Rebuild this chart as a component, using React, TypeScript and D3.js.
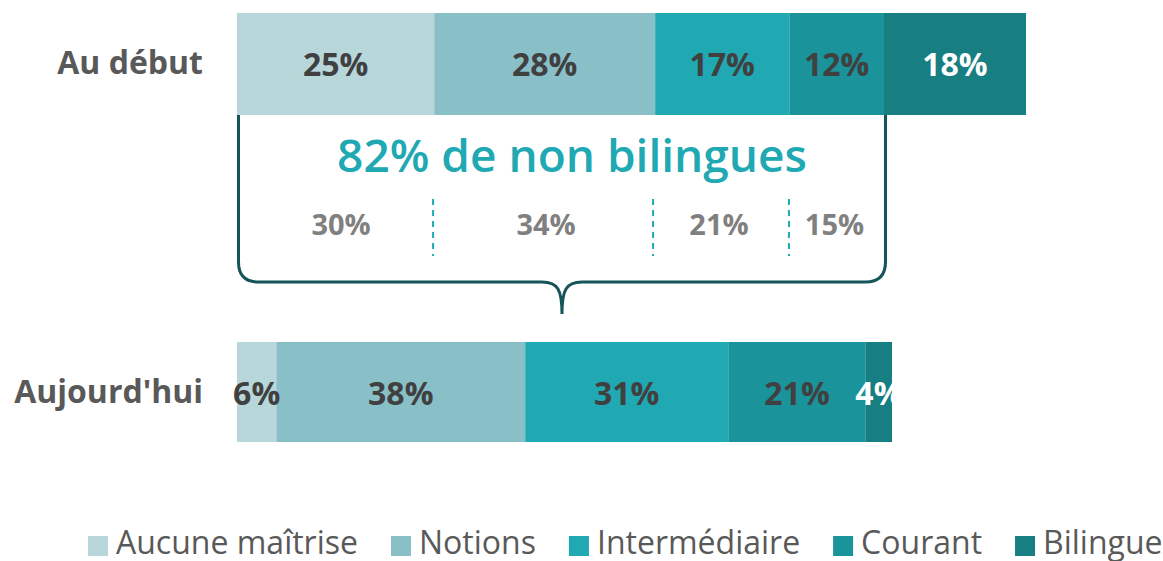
import React, { useEffect, useRef } from "react";
import * as d3 from "d3";

const categories = ["Au début", "Aujourd'hui"];
const levels = ["Aucune maîtrise", "Notions", "Intermédiaire", "Courant", "Bilingue"];
const debutValues = [25, 28, 17, 12, 18];
const aujourdhuiValues = [6, 38, 31, 21, 4];
const nonBilingueTotal = 82;
const nonBilingueTitle = "82% de non bilingues";
const nonBilingueSplit = [30, 34, 21, 15];
const levelColors = ["#b7d7db", "#89c0c8", "#20a8b3", "#1a939b", "#177e82"];
const labelColors = ["#404040", "#404040", "#404040", "#404040", "#ffffff"];

const W = 1163;
const H = 561;
const FONT = "'Open Sans', 'Noto Sans', sans-serif";

export default function App() {
  const ref = useRef<SVGSVGElement | null>(null);

  useEffect(() => {
    const svg = d3.select(ref.current);
    svg.selectAll("*").remove();

    const xTop = d3.scaleLinear().domain([0, 100]).range([237, 1026]);
    const xBottom = d3.scaleLinear().domain([0, 100]).range([237, 892]);
    const yTop = d3.scaleOrdinal<string, number>().domain(categories).range([13, 342]);
    const barH = 100;

    const series = [debutValues, aujourdhuiValues];
    const scales = [xTop, xBottom];

    const defs = svg.append("defs");
    defs.append("clipPath").attr("id", "clipBottom")
      .append("rect").attr("x", 0).attr("y", 0).attr("width", xBottom(100)).attr("height", H);

    categories.forEach((cat, ci) => {
      const vals = series[ci];
      const x = scales[ci];
      const y0 = yTop(cat);
      let cum = 0;
      const segs = vals.map((v, i) => {
        const s = { start: cum, end: cum + v, v, i };
        cum += v;
        return s;
      });
      const g = svg.append("g");
      g.selectAll("rect").data(segs).join("rect")
        .attr("x", d => x(d.start))
        .attr("y", y0)
        .attr("width", d => x(d.end) - x(d.start))
        .attr("height", barH + (ci === 0 ? 2 : 0))
        .attr("fill", d => levelColors[d.i]);
      const lg = svg.append("g");
      if (ci === 1) lg.attr("clip-path", "url(#clipBottom)");
      lg.selectAll("text").data(segs).join("text")
        .attr("x", d => (x(d.start) + x(d.end)) / 2)
        .attr("y", y0 + barH / 2 + 13)
        .attr("text-anchor", "middle")
        .attr("font-family", FONT)
        .attr("font-weight", 700)
        .attr("font-size", 32)
        .attr("fill", d => labelColors[d.i])
        .text(d => `${d.v}%`);

      svg.append("text")
        .attr("x", 203)
        .attr("y", y0 + barH / 2 + 11)
        .attr("text-anchor", "end")
        .attr("font-family", FONT)
        .attr("font-weight", 700)
        .attr("font-size", 32)
        .attr("fill", "#595959")
        .text(cat);
    });

    // Brace
    const bx0 = xTop(0) + 1.5;
    const bx1 = xTop(nonBilingueTotal) + 1.5;
    const byTop = yTop(categories[0]) + barH + 2;
    const byBot = 282;
    const r = 20;
    const mid = (bx0 + bx1) / 2;
    const tipY = 314;
    const p = d3.path();
    p.moveTo(bx0, byTop);
    p.lineTo(bx0, byBot - r);
    p.quadraticCurveTo(bx0, byBot, bx0 + r, byBot);
    p.lineTo(mid - 20, byBot);
    p.bezierCurveTo(mid - 4, byBot, mid, byBot + 8, mid, tipY);
    p.bezierCurveTo(mid, byBot + 8, mid + 4, byBot, mid + 20, byBot);
    p.lineTo(bx1 - r, byBot);
    p.quadraticCurveTo(bx1, byBot, bx1, byBot - r);
    p.lineTo(bx1, byTop);
    svg.append("path")
      .attr("d", p.toString())
      .attr("fill", "none")
      .attr("stroke", "#15555a")
      .attr("stroke-width", 3);

    svg.append("text")
      .attr("x", mid + 10)
      .attr("y", 172)
      .attr("text-anchor", "middle")
      .attr("font-family", FONT)
      .attr("font-weight", 600)
      .attr("font-size", 46)
      .attr("fill", "#20a8b3")
      .text(nonBilingueTitle);

    const xSub = d3.scaleLinear().domain([0, 100]).range([xTop(0), xTop(nonBilingueTotal)]);
    let c = 0;
    const subs = nonBilingueSplit.map(v => {
      const s = { start: c, end: c + v, v };
      c += v;
      return s;
    });
    const subOffsets = [7, 5, 0, -1];
    svg.append("g").selectAll("text").data(subs).join("text")
      .attr("x", (d, i) => (xSub(d.start) + xSub(d.end)) / 2 + subOffsets[i])
      .attr("y", 235)
      .attr("text-anchor", "middle")
      .attr("font-family", FONT)
      .attr("font-weight", 700)
      .attr("font-size", 29)
      .attr("fill", "#808080")
      .text(d => `${d.v}%`);
    svg.append("g").selectAll("line").data(subs.slice(1)).join("line")
      .attr("x1", d => xSub(d.start) + 2)
      .attr("x2", d => xSub(d.start) + 2)
      .attr("y1", 199)
      .attr("y2", 256)
      .attr("stroke", "#20a8b3")
      .attr("stroke-width", 2)
      .attr("stroke-dasharray", "6,5");

    // Legend
    const leg = svg.append("g");
    let lx = 88;
    levels.forEach((name, i) => {
      leg.append("rect")
        .attr("x", lx).attr("y", 536).attr("width", 20).attr("height", 20)
        .attr("fill", levelColors[i]);
      const t = leg.append("text")
        .attr("x", lx + 28)
        .attr("y", 554)
        .attr("font-family", FONT)
        .attr("font-size", 32)
        .attr("fill", "#595959")
        .text(name);
      const w = (t.node() as SVGTextElement).getComputedTextLength();
      lx = lx + 28 + w + 33;
    });
  }, []);

  return (
    <svg
      ref={ref}
      width={W}
      height={H}
      style={{ position: "absolute", left: 0, top: 0, background: "#ffffff" }}
    />
  );
}
